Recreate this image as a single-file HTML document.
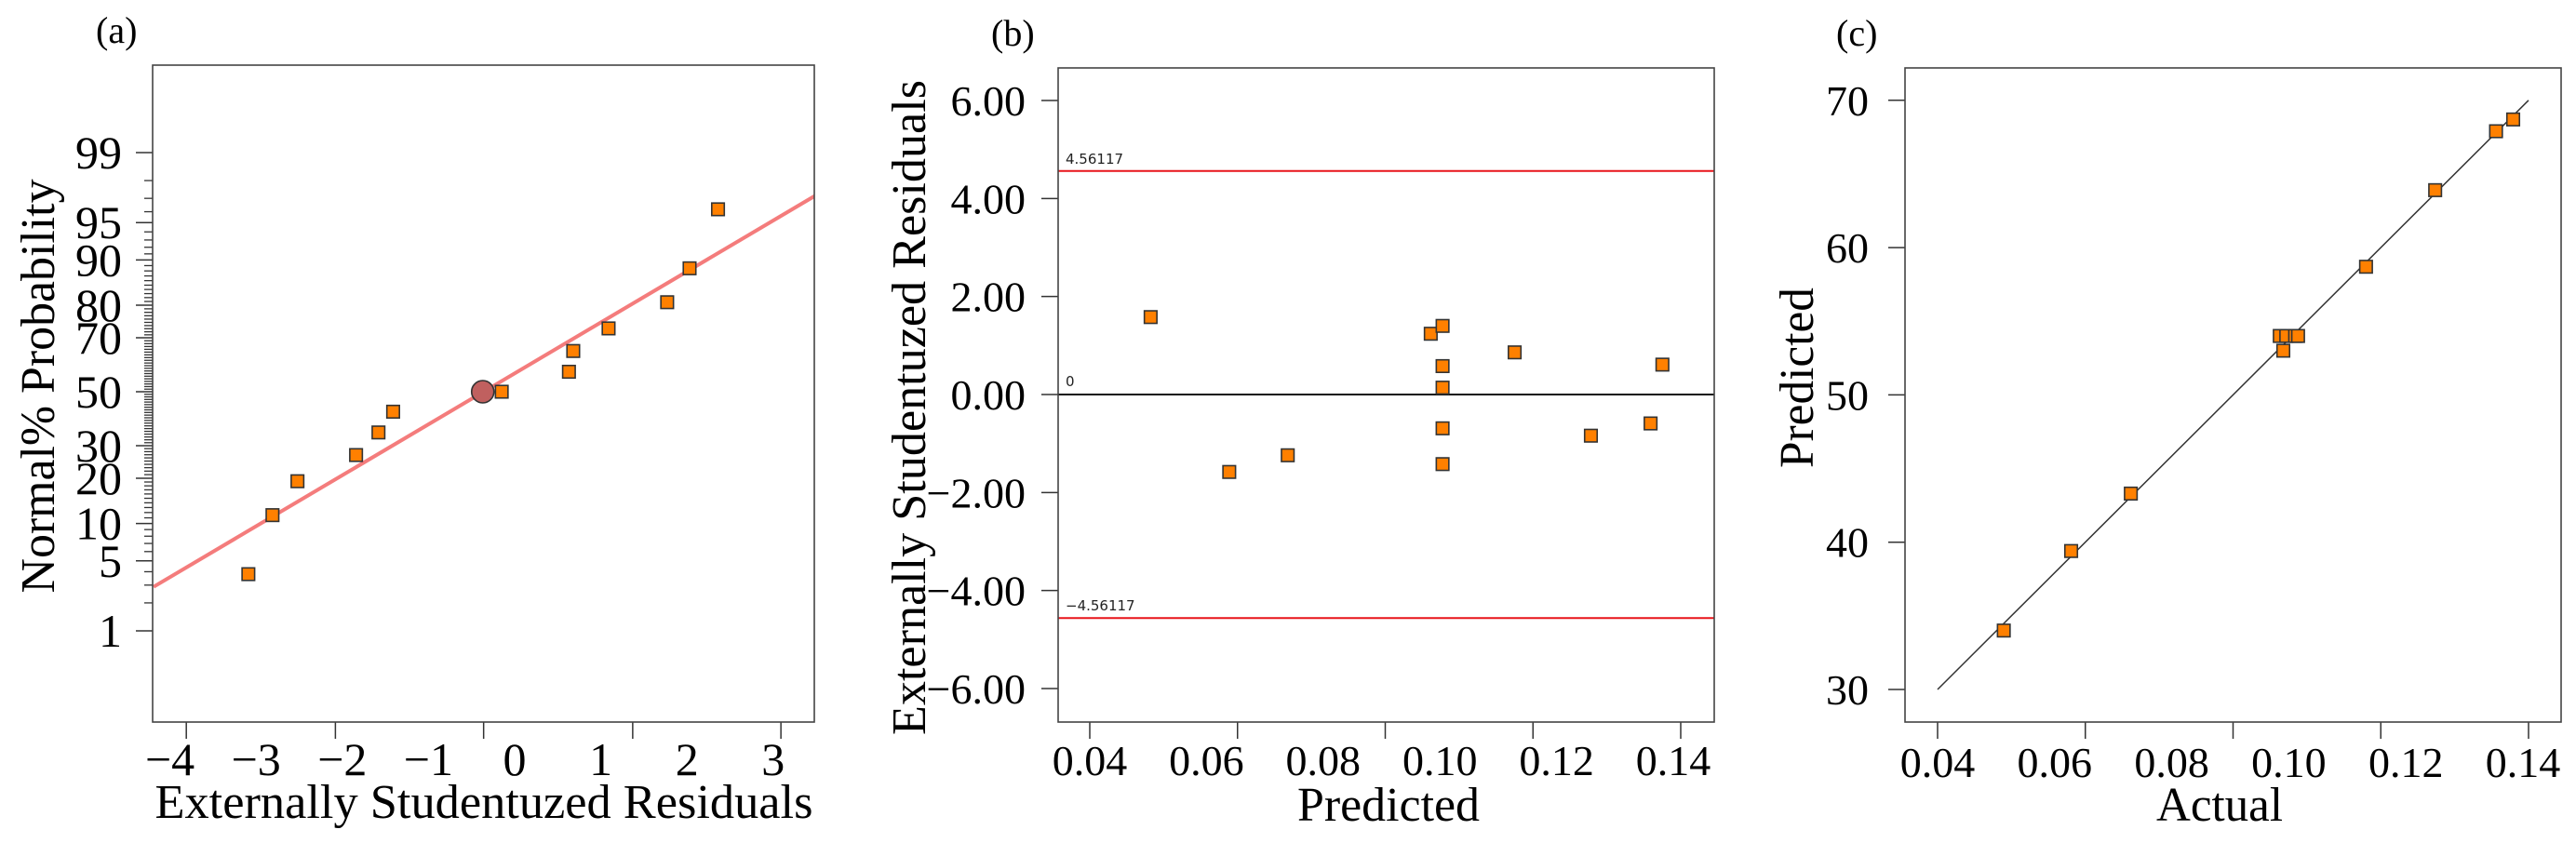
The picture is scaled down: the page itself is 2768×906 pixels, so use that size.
<!DOCTYPE html>
<html><head><meta charset="utf-8"><style>
html,body{margin:0;padding:0;background:#fff;}
svg{display:block;font-family:'Liberation Serif','Times New Roman',serif;}
svg text{font-family:'Liberation Serif','Times New Roman',serif;fill:#000;}
svg text.sm{font-family:'DejaVu Sans','Liberation Sans',sans-serif;font-size:15px;fill:#222;}
</style></head><body>
<svg id="fig" width="2768" height="906" viewBox="0 0 2768 906" xmlns="http://www.w3.org/2000/svg" font-family="Liberation Serif, serif"></svg>
<script>
// ---------- Panel (a) data: normal probability plot ----------
const aResiduals = [-3.09,-2.81,-2.52,-1.84,-1.58,-1.41,-0.15,0.63,0.68,1.09,1.77,2.03,2.36];
const aProbs = [3.8,11.5,19.2,26.9,34.6,42.3,50,57.7,65.4,73.1,80.8,88.5,96.2];
const aHighlightRes = [-0.37];
const aHighlightProb = [50];
const aXLabels = [-4,-3,-2,-1,0,1,2,3];
const aXTicks = [-3.81,-2.08,-0.36,1.37,3.09];
const aYLabels = [1,5,10,20,30,50,70,80,90,95,99];
const aLineX = [-4.19,3.48];
const aLineCenter = -0.36;
const aLineSlope = 0.4955;
// ---------- Panel (b) data: residuals vs predicted ----------
const bPredicted = [0.0503,0.0636,0.0735,0.0977,0.0997,0.0997,0.0997,0.0997,0.0997,0.1119,0.1248,0.1349,0.1369];
const bResiduals = [1.58,-1.58,-1.24,1.24,1.40,0.58,0.14,-0.69,-1.42,0.86,-0.84,-0.59,0.61];
const bLimits = [4.56117,-4.56117];
const bYTicks = [6,4,2,0,-2,-4,-6];
const bXLabels = [0.04,0.06,0.08,0.10,0.12,0.14];
const bXTicks = [0.04,0.065,0.09,0.115,0.14];
// ---------- Panel (c) data: predicted vs actual ----------
const cActual = [0.0512,0.0626,0.0727,0.0985,0.0979,0.0990,0.1005,0.1010,0.1125,0.1242,0.1345,0.1374];
const cPredicted = [34.0,39.4,43.3,53.0,54.0,54.0,54.0,54.0,58.7,63.9,67.9,68.7];
const cYTicks = [30,40,50,60,70];
const cXLabels = [0.04,0.06,0.08,0.10,0.12,0.14];
const cXTicks = [0.04,0.065,0.09,0.115,0.14];
const cLineX = [0.04,0.14];

const NS='http://www.w3.org/2000/svg';
const svg=document.getElementById('fig');
const SERIF='Liberation Serif, Times New Roman, serif';
function mk(tag,attrs,parent){const e=document.createElementNS(NS,tag);for(const k in attrs)e.setAttribute(k,attrs[k]);if(tag==='text'&&!attrs.class)e.setAttribute('font-family',SERIF);(parent||svg).appendChild(e);return e;}
function probit(p){
  const a=[-39.69683028665376,220.9460984245205,-275.9285104469687,138.3577518672690,-30.66479806614716,2.506628277459239];
  const b=[-54.47609879822406,161.5858368580409,-155.6989798598866,66.80131188771972,-13.28068155211019];
  const c=[-0.007784894002430293,-0.3223964580411365,-2.400758277161838,-2.549732539343734,4.374664141464968,2.938163982698783];
  const d=[0.007784695709041462,0.3224671290700398,2.445134137142996,3.754408661907416];
  const pl=0.02425;let q,r;
  if(p<pl){q=Math.sqrt(-2*Math.log(p));return (((((c[0]*q+c[1])*q+c[2])*q+c[3])*q+c[4])*q+c[5])/((((d[0]*q+d[1])*q+d[2])*q+d[3])*q+1);}
  if(p>1-pl){q=Math.sqrt(-2*Math.log(1-p));return -(((((c[0]*q+c[1])*q+c[2])*q+c[3])*q+c[4])*q+c[5])/((((d[0]*q+d[1])*q+d[2])*q+d[3])*q+1);}
  q=p-0.5;r=q*q;return (((((a[0]*r+a[1])*r+a[2])*r+a[3])*r+a[4])*r+a[5])*q/(((((b[0]*r+b[1])*r+b[2])*r+b[3])*r+b[4])*r+1);
}
function sq(g,x,y){const s=13.5;return mk('rect',{x:x-s/2,y:y-s/2,width:s,height:s,fill:'#ff8000',stroke:'#333','stroke-width':1.6},g);}

// ================= Panel A =================
const gA=mk('g',{});


const axA={l:164,r:875,t:70,b:776};
const xA=v=>553+v*92.6;
const yA=p=>421-110.5*probit(p/100);
let t=mk('text',{x:103,y:46,'font-size':40},gA);t.textContent='(a)';


for(let p=2;p<=98;p++){
  if(aYLabels.includes(p))continue;
  const m=mk('line',{x1:axA.l-9,x2:axA.l,y1:yA(p),y2:yA(p),stroke:'#333','stroke-width':1.3},gA);
  
  
}
aYLabels.forEach(p=>{
  const y=yA(p);
  const l=mk('line',{x1:axA.l-18,x2:axA.l,y1:y,y2:y,stroke:'#333','stroke-width':1.5},gA);
  
  
  const tx=mk('text',{x:131,y:y+17,'font-size':50,'text-anchor':'end'},gA);tx.textContent=p;
  
  
});
aXTicks.forEach(v=>{
  const l=mk('line',{x1:xA(v),x2:xA(v),y1:axA.b,y2:axA.b+18,stroke:'#333','stroke-width':1.5},gA);
  
  
});
aXLabels.forEach(v=>{
  const tx=mk('text',{x:xA(v),y:833,'font-size':50,'text-anchor':'middle'},gA);tx.textContent=(v<0?'\u2212':'')+Math.abs(v);
  
  
});
const clipA=mk('clipPath',{id:'clipA'},gA);mk('rect',{x:axA.l,y:axA.t,width:axA.r-axA.l,height:axA.b-axA.t},clipA);
const fitA=mk('line',{x1:xA(aLineX[0]),y1:421-110.5*(aLineX[0]-aLineCenter)*aLineSlope,x2:xA(aLineX[1]),y2:421-110.5*(aLineX[1]-aLineCenter)*aLineSlope,stroke:'#f47c7c','stroke-width':4,'clip-path':'url(#clipA)'},gA);


aResiduals.forEach((v,i)=>{
  const s=sq(gA,xA(v),yA(aProbs[i]));
  
  
});
aHighlightRes.forEach((v,i)=>{
  const c=mk('circle',{cx:xA(v),cy:yA(aHighlightProb[i]),r:12,fill:'#c0605f',stroke:'#333','stroke-width':1.6},gA);
  
  
});
const boxA=mk('rect',{x:axA.l,y:axA.t,width:axA.r-axA.l,height:axA.b-axA.t,fill:'none',stroke:'#444','stroke-width':1.6},gA);


t=mk('text',{x:520,y:879,'font-size':52,'text-anchor':'middle',textLength:707,lengthAdjust:'spacingAndGlyphs'},gA);t.textContent='Externally Studentuzed Residuals';


t=mk('text',{x:0,y:0,'font-size':52,'text-anchor':'middle',textLength:445,lengthAdjust:'spacingAndGlyphs',transform:'translate(58,415) rotate(-90)'},gA);t.textContent='Normal% Probability';



// ================= Panel B =================
const gB=mk('g',{});


const axB={l:1137,r:1842,t:73,b:776};
const xB=v=>1171+(v-0.04)*6350;
const yB=v=>424-v*52.67;
t=mk('text',{x:1065,y:49,'font-size':40},gB);t.textContent='(b)';


bYTicks.forEach(v=>{
  const l=mk('line',{x1:axB.l-18,x2:axB.l,y1:yB(v),y2:yB(v),stroke:'#333','stroke-width':1.5},gB);
  
  
  const tx=mk('text',{x:1102,y:yB(v)+16,'font-size':46,'text-anchor':'end'},gB);tx.textContent=(v<0?'\u2212':'')+Math.abs(v).toFixed(2);
  
  
});
bXTicks.forEach(v=>{
  const l=mk('line',{x1:xB(v),x2:xB(v),y1:axB.b,y2:axB.b+18,stroke:'#333','stroke-width':1.5},gB);
  
  
});
bXLabels.forEach((v,i)=>{
  const tx=mk('text',{x:1171+i*125.4,y:833,'font-size':46,'text-anchor':'middle'},gB);tx.textContent=v.toFixed(2);
  
  
});
bLimits.forEach(v=>{
  const l=mk('line',{x1:axB.l,x2:axB.r,y1:yB(v),y2:yB(v),stroke:'#e8141a','stroke-width':2},gB);
  
  
  const tx=mk('text',{x:axB.l+8,y:yB(v)-8,class:'sm'},gB);tx.textContent=(v<0?'\u2212':'')+Math.abs(v);
  
  
});
const zl=mk('line',{x1:axB.l,x2:axB.r,y1:yB(0),y2:yB(0),stroke:'#111','stroke-width':2},gB);


t=mk('text',{x:axB.l+8,y:yB(0)-9,class:'sm'},gB);t.textContent='0';


bPredicted.forEach((v,i)=>{
  const s=sq(gB,xB(v),yB(bResiduals[i]));
  
  
});
const boxB=mk('rect',{x:axB.l,y:axB.t,width:axB.r-axB.l,height:axB.b-axB.t,fill:'none',stroke:'#444','stroke-width':1.6},gB);


t=mk('text',{x:1492,y:882,'font-size':52,'text-anchor':'middle',textLength:196,lengthAdjust:'spacingAndGlyphs'},gB);t.textContent='Predicted';


t=mk('text',{x:0,y:0,'font-size':52,'text-anchor':'middle',textLength:704,lengthAdjust:'spacingAndGlyphs',transform:'translate(994,438) rotate(-90)'},gB);t.textContent='Externally Studentuzed Residuals';



// ================= Panel C =================
const gC=mk('g',{});


const axC={l:2047,r:2752,t:73,b:776};
const xC=v=>2082+(v-0.04)*6350;
const yC=v=>741-(v-30)*15.83;
t=mk('text',{x:1973,y:49,'font-size':40},gC);t.textContent='(c)';


cYTicks.forEach(v=>{
  const l=mk('line',{x1:axC.l-18,x2:axC.l,y1:yC(v),y2:yC(v),stroke:'#333','stroke-width':1.5},gC);
  
  
  const tx=mk('text',{x:2008,y:yC(v)+16,'font-size':46,'text-anchor':'end'},gC);tx.textContent=v;
  
  
});
cXTicks.forEach(v=>{
  const l=mk('line',{x1:xC(v),x2:xC(v),y1:axC.b,y2:axC.b+18,stroke:'#333','stroke-width':1.5},gC);
  
  
});
cXLabels.forEach((v,i)=>{
  const tx=mk('text',{x:2082+i*125.8,y:835,'font-size':46,'text-anchor':'middle'},gC);tx.textContent=v.toFixed(2);
  
  
});
const idl=mk('line',{x1:xC(cLineX[0]),y1:yC(30),x2:xC(cLineX[1]),y2:yC(70),stroke:'#333','stroke-width':1.5},gC);


cActual.forEach((v,i)=>{
  const s=sq(gC,xC(v),yC(cPredicted[i]));
  
  
});
const boxC=mk('rect',{x:axC.l,y:axC.t,width:axC.r-axC.l,height:axC.b-axC.t,fill:'none',stroke:'#444','stroke-width':1.6},gC);


t=mk('text',{x:2385,y:882,'font-size':52,'text-anchor':'middle',textLength:136,lengthAdjust:'spacingAndGlyphs'},gC);t.textContent='Actual';


t=mk('text',{x:0,y:0,'font-size':52,'text-anchor':'middle',textLength:194,lengthAdjust:'spacingAndGlyphs',transform:'translate(1948,406) rotate(-90)'},gC);t.textContent='Predicted';


</script>
</body></html>
